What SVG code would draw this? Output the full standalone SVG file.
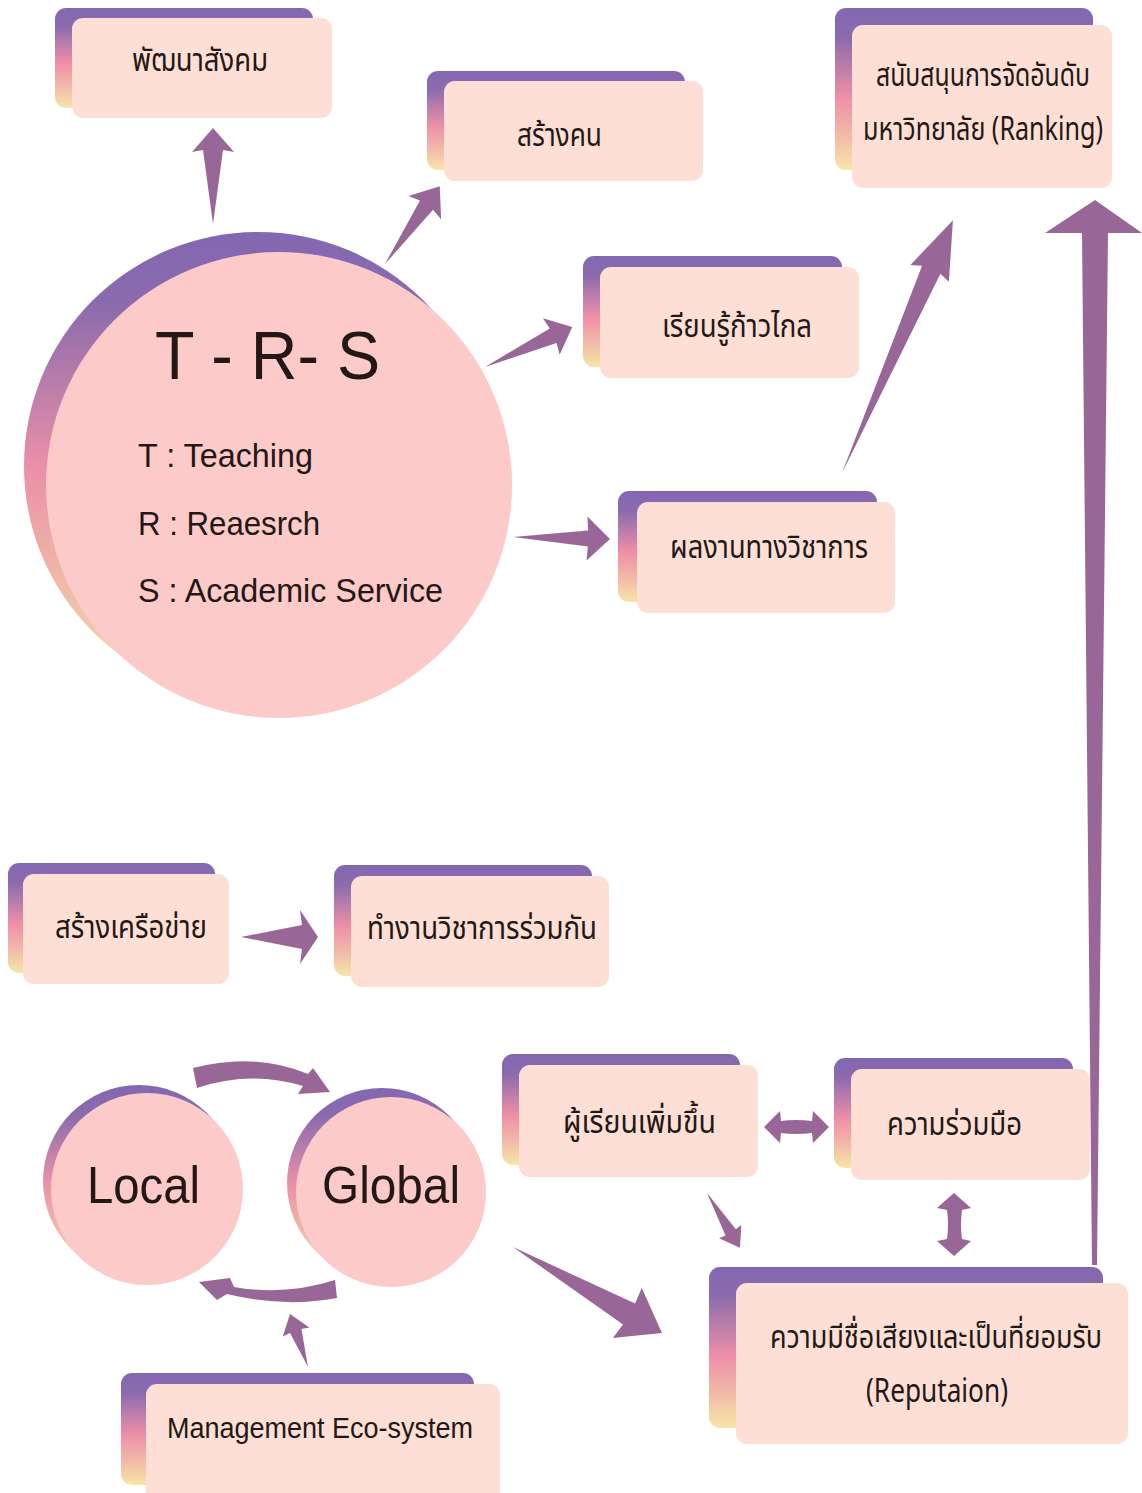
<svg xmlns="http://www.w3.org/2000/svg" width="1142" height="1493" viewBox="0 0 1142 1493">
<defs>
<linearGradient id="gBack" x1="0" y1="0" x2="0" y2="1">
<stop offset="0" stop-color="#8367b1"/>
<stop offset="0.18" stop-color="#8b6bad"/>
<stop offset="0.55" stop-color="#ee8fa7"/>
<stop offset="0.8" stop-color="#f2bca8"/>
<stop offset="1" stop-color="#f7e6a6"/>
</linearGradient>
<linearGradient id="gCirc" x1="0" y1="0" x2="0" y2="1">
<stop offset="0" stop-color="#8367b1"/>
<stop offset="0.15" stop-color="#8a6bad"/>
<stop offset="0.5" stop-color="#ea8fa8"/>
<stop offset="0.75" stop-color="#f0b9a8"/>
<stop offset="1" stop-color="#f6e0a8"/>
</linearGradient>
<style>
.back{fill:url(#gBack);}
.front{fill:#fedfd5;}
.cback{fill:url(#gCirc);}
.cfront{fill:#fdcaca;}
.arr{fill:#996698;}
.th{font-family:"Noto Sans Thai","Noto Sans","DejaVu Sans",sans-serif;font-size:32px;fill:#231815;}
.en{font-family:"Liberation Sans","Noto Sans",sans-serif;fill:#231815;}
</style>
</defs>
<rect width="1142" height="1493" fill="#ffffff"/>

<g id="connectors">
<path class="arr" d="M0,0 L74,-10 L72,-21 L96,0 L72,21 L74,10 Z" transform="translate(213,224) rotate(-90)"/>
<path class="arr" d="M0,0 L72,-8 L69,-20 L95,0 L69,20 L72,8 Z" transform="translate(385,264) rotate(-54.8)"/>
<path class="arr" d="M0,0 L75,-8 L73,-20 L96,0 L73,20 L75,8 Z" transform="translate(485,367) rotate(-24.7)"/>
<path class="arr" d="M0,0 L75,-8 L74,-22 L97,0 L74,22 L75,8 Z" transform="translate(513,537) rotate(1.2)"/>
<path class="arr" d="M0,0 L222,-10 L218,-21 L276,0 L218,21 L222,10 Z" transform="translate(842,473) rotate(-66.3)"/>
<path class="arr" d="M1095,200 L1142,233 L1108,233 L1097,1265 L1092,1265 L1082,233 L1045,233 Z"/>
<path class="arr" d="M241,937 L302,925 L300,910 L318,937 L300,964 L302,949 Z"/>
<path class="arr" d="M0,0 L134,-12 L132,-29 L172,0 L132,29 L134,12 Z" transform="translate(513,1247) rotate(30)"/>
<path class="arr" d="M0,0 L46,-6 L45,-13 L64,0 L45,13 L46,6 Z" transform="translate(707,1193) rotate(59)"/>
<path class="arr" d="M0,0 L38,-6 L37,-14 L56,0 L37,14 L38,6 Z" transform="translate(308,1367) rotate(-108.8)"/>
<path class="arr" d="M193,1068 Q255,1052 308,1074 L313,1068 L330,1092 L298,1094 L303,1086 Q250,1070 197,1088 Z"/>
<path class="arr" d="M335,1280 Q285,1296 234,1287 L230,1278 L199,1282 L217,1300 L227,1294 Q285,1308 337,1298 Z"/>
<path class="arr" d="M764,1127 L780,1111 L781,1121 Q796,1119 812,1121 L813,1111 L829,1127 L813,1143 L812,1133 Q796,1135 781,1133 L780,1143 Z"/>
<path class="arr" d="M954,1193 L971,1208 L962,1210 Q960,1224 962,1239 L971,1241 L954,1256 L937,1241 L947,1239 Q949,1224 947,1210 L937,1208 Z"/>
</g>

<g id="node-develop-society">
<rect class="back" x="55" y="8" width="258" height="100" rx="11"/>
<rect class="front" x="72" y="18" width="260" height="100" rx="11"/>
<text class="th" x="132" y="71" textLength="136" lengthAdjust="spacingAndGlyphs">พัฒนาสังคม</text>
</g>

<g id="node-build-people">
<rect class="back" x="427" y="71" width="258" height="99" rx="11"/>
<rect class="front" x="444" y="81" width="259" height="100" rx="11"/>
<text class="th" x="517" y="146" textLength="85" lengthAdjust="spacingAndGlyphs">สร้างคน</text>
</g>

<g id="node-ranking">
<rect class="back" x="835" y="8" width="258" height="162" rx="11"/>
<rect class="front" x="852" y="25" width="260" height="163" rx="11"/>
<text class="th" x="876" y="86" textLength="214" lengthAdjust="spacingAndGlyphs">สนับสนุนการจัดอันดับ</text>
<text class="th" x="863" y="140" textLength="240" lengthAdjust="spacingAndGlyphs">มหาวิทยาลัย (Ranking)</text>
</g>

<g id="node-learn-far">
<rect class="back" x="583" y="256" width="259" height="111" rx="11"/>
<rect class="front" x="600" y="267" width="259" height="111" rx="11"/>
<text class="th" x="662" y="337" textLength="150" lengthAdjust="spacingAndGlyphs">เรียนรู้ก้าวไกล</text>
</g>

<g id="node-academic-work">
<rect class="back" x="618" y="491" width="259" height="111" rx="11"/>
<rect class="front" x="637" y="502" width="258" height="111" rx="11"/>
<text class="th" x="670" y="558" textLength="198" lengthAdjust="spacingAndGlyphs">ผลงานทางวิชาการ</text>
</g>

<g id="node-trs">
<circle class="cback" cx="258" cy="466" r="234"/>
<circle class="cfront" cx="279" cy="485" r="233"/>
<text class="en" x="155" y="379" font-size="68" textLength="225" lengthAdjust="spacingAndGlyphs">T - R- S</text>
<text class="en" x="138" y="467" font-size="33" textLength="175" lengthAdjust="spacingAndGlyphs">T : Teaching</text>
<text class="en" x="138" y="535" font-size="33" textLength="182" lengthAdjust="spacingAndGlyphs">R : Reaesrch</text>
<text class="en" x="138" y="602" font-size="33" textLength="305" lengthAdjust="spacingAndGlyphs">S : Academic Service</text>
</g>

<g id="node-network">
<rect class="back" x="8" y="863" width="207" height="110" rx="11"/>
<rect class="front" x="23" y="874" width="206" height="110" rx="11"/>
<text class="th" x="55" y="938" textLength="152" lengthAdjust="spacingAndGlyphs">สร้างเครือข่าย</text>
</g>

<g id="node-joint-work">
<rect class="back" x="334" y="865" width="258" height="111" rx="11"/>
<rect class="front" x="351" y="876" width="258" height="111" rx="11"/>
<text class="th" x="367" y="939" textLength="230" lengthAdjust="spacingAndGlyphs">ทำงานวิชาการร่วมกัน</text>
</g>

<g id="node-local">
<circle class="cback" cx="139" cy="1181" r="96"/>
<circle class="cfront" cx="147" cy="1189" r="96"/>
<text class="en" x="87" y="1203" font-size="52" textLength="113" lengthAdjust="spacingAndGlyphs">Local</text>
</g>

<g id="node-global">
<circle class="cback" cx="382" cy="1183" r="95"/>
<circle class="cfront" cx="391" cy="1192" r="95"/>
<text class="en" x="322" y="1203" font-size="52" textLength="138" lengthAdjust="spacingAndGlyphs">Global</text>
</g>

<g id="node-more-learners">
<rect class="back" x="502" y="1054" width="238" height="111" rx="11"/>
<rect class="front" x="519" y="1065" width="239" height="112" rx="11"/>
<text class="th" x="563" y="1133" textLength="153" lengthAdjust="spacingAndGlyphs">ผู้เรียนเพิ่มขึ้น</text>
</g>

<g id="node-cooperation">
<rect class="back" x="834" y="1058" width="239" height="110" rx="11"/>
<rect class="front" x="851" y="1069" width="239" height="111" rx="11"/>
<text class="th" x="887" y="1135" textLength="135" lengthAdjust="spacingAndGlyphs">ความร่วมมือ</text>
</g>

<g id="node-reputation">
<rect class="back" x="709" y="1267" width="394" height="161" rx="11"/>
<rect class="front" x="736" y="1283" width="392" height="161" rx="11"/>
<text class="th" x="770" y="1348" textLength="332" lengthAdjust="spacingAndGlyphs">ความมีชื่อเสียงและเป็นที่ยอมรับ</text>
<text class="th" x="866" y="1402" textLength="142" lengthAdjust="spacingAndGlyphs">(Reputaion)</text>
</g>

<g id="node-management">
<rect class="back" x="121" y="1373" width="353" height="112" rx="11"/>
<rect class="front" x="146" y="1384" width="354" height="120" rx="11"/>
<text class="en" x="167" y="1438" font-size="29" textLength="306" lengthAdjust="spacingAndGlyphs">Management Eco-system</text>
</g>
</svg>
